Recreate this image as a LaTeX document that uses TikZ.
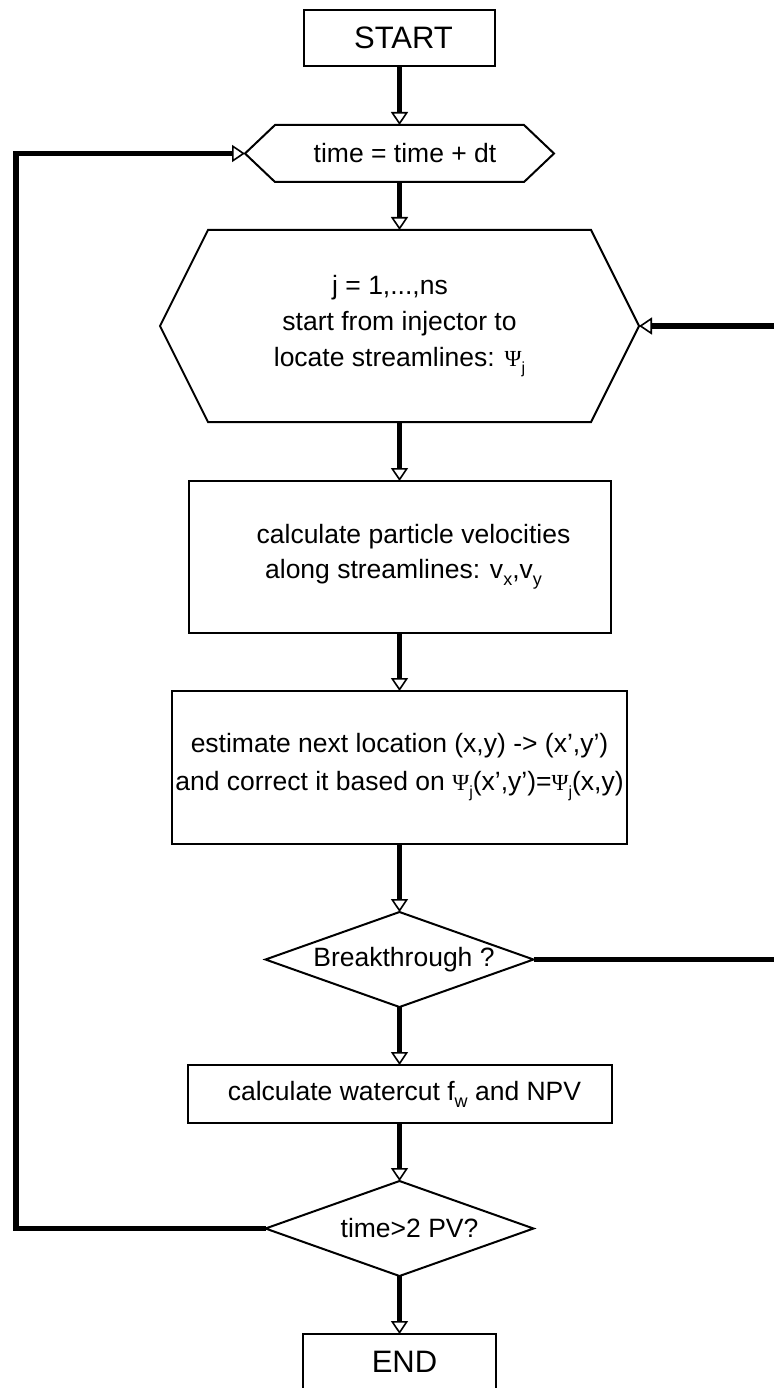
\documentclass[tikz,border=0pt]{standalone}
\usepackage{fontspec}
\setmainfont{Liberation Sans}
\newfontfamily\greekfont{Liberation Serif}
\usetikzlibrary{arrows.meta,calc}

% lowered small index, as in v_x or f_w
\newcommand{\lowsub}[1]{\raisebox{-7pt}{\fontsize{18}{18}\selectfont #1}}
% stream function symbol with its index j
\newcommand{\psij}{{\greekfont\fontsize{23}{23}\selectfont Ψ}\raisebox{-7pt}{\fontsize{16}{16}\selectfont j}}

\begin{document}
\begin{tikzpicture}[x=1pt,y=-1pt,
  every node/.style={inner sep=0pt, outer sep=0pt, align=center,
    font=\fontsize{26.5}{36}\selectfont},
  box/.style={draw, line width=2pt, rectangle},
  shapebox/.style={rectangle},
  outline/.style={draw, line width=2pt, line join=miter},
  bigfont/.style={font=\fontsize{31}{31}\selectfont},
  flow/.style={line width=5.5pt, line join=miter,
    -{Triangle[open, length=13pt, width=17pt, line width=1.6pt]}}
]
\useasboundingbox (0,0) rectangle (773,1388);

% ---- nodes (x = 1pt, y grows downwards) ----
\node[box, bigfont, minimum width=191pt, minimum height=56pt] (start) at (399.5,38) {\hspace*{8pt}START};

\node[shapebox, minimum width=309pt, minimum height=57pt] (tick) at (399.5,153.5)
  {\hspace*{11pt}time = time + dt};

\node[shapebox, minimum width=479pt, minimum height=192pt] (trace) at (399.5,326)
  {j = 1,...,ns\kern19pt\\ start from injector to\\ locate streamlines: \psij};

\node[box, minimum width=422pt, minimum height=152pt, font=\fontsize{26.5}{35}\selectfont] (vel) at (399.5,557)
  {\hspace*{28pt}calculate particle velocities\\ \hspace*{8pt}along streamlines: v\lowsub{x},v\lowsub{y}};

\node[box, minimum width=455pt, minimum height=153pt, font=\fontsize{26.5}{38}\selectfont] (move) at (399.5,767.5)
  {estimate next location (x,y) -> (x’,y’)\\ and correct it based on \psij(x’,y’)=\psij(x,y)};

\node[shapebox, minimum width=268pt, minimum height=95pt] (bt) at (399.5,959.5)
  {\hspace*{9pt}Breakthrough ?};

\node[box, minimum width=424pt, minimum height=58pt] (npv) at (399.5,1094)
  {\hspace*{10pt}calculate watercut f\lowsub{w} and NPV};

\node[shapebox, minimum width=268pt, minimum height=95pt] (stop) at (399.5,1228.5)
  {\hspace*{20pt}time>2 PV?};

\node[box, bigfont, minimum width=193pt, minimum height=56pt] (end) at (399.5,1362) {\hspace*{10pt}END};

% ---- outlines of the hexagons and decision diamonds ----
\draw[outline] (tick.west) -- ([xshift=30pt]tick.north west) -- ([xshift=-30pt]tick.north east)
  -- (tick.east) -- ([xshift=-30pt]tick.south east) -- ([xshift=30pt]tick.south west) -- cycle;
\draw[outline] (trace.west) -- ([xshift=48pt]trace.north west) -- ([xshift=-48pt]trace.north east)
  -- (trace.east) -- ([xshift=-48pt]trace.south east) -- ([xshift=48pt]trace.south west) -- cycle;
\draw[outline] (bt.north) -- (bt.east) -- (bt.south) -- (bt.west) -- cycle;
\draw[outline] (stop.north) -- (stop.east) -- (stop.south) -- (stop.west) -- cycle;

% ---- main flow ----
\draw[flow] (start.south) -- (tick.north);
\draw[flow] (tick.south)  -- (trace.north);
\draw[flow] (trace.south) -- (vel.north);
\draw[flow] (vel.south)   -- (move.north);
\draw[flow] (move.south)  -- (bt.north);
\draw[flow] (bt.south)    -- (npv.north);
\draw[flow] (npv.south)   -- (stop.north);
\draw[flow] (stop.south)  -- (end.north);

% ---- loops back ----
\coordinate (leftrail)  at (16,700);
\coordinate (rightrail) at (790,600);
\draw[flow] (stop.west) -| (leftrail) |- (tick.west);
\draw[flow] (bt.east) -| (rightrail) |- (trace.east);
\end{tikzpicture}
\end{document}
